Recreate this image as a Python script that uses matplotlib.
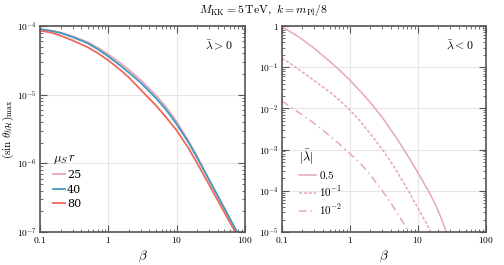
import matplotlib
matplotlib.use("Agg")
import matplotlib.pyplot as plt
from matplotlib.ticker import FixedLocator, LogLocator, NullFormatter

plt.rcParams["mathtext.fontset"] = "cm"
plt.rcParams["font.family"] = ["DejaVu Serif"]

# ── Data ─────────────────────────────────────────────────────
# left panel: lambda > 0, one curve per mu_S r
beta_pos = [0.1, 0.15, 0.2, 0.3, 0.5, 0.7, 1, 1.5, 2, 3, 5, 7, 10, 15, 20, 30, 40, 50, 60, 70, 80, 90]
mu_labels = ["25", "40", "80"]
theta_25 = [9.1e-5, 8.51e-5, 8.04e-5, 7.08e-5, 5.82e-5, 4.84e-5, 3.85e-5, 2.88e-5, 2.30e-5, 1.62e-5,
            9.73e-6, 6.61e-6, 4.04e-6, 2.10e-6, 1.25e-6, 5.79e-7, 3.37e-7, 2.2e-7, 1.57e-7, 1.18e-7,
            9.2e-8, 7.4e-8]
theta_40 = [8.99e-5, 8.41e-5, 7.91e-5, 6.90e-5, 5.60e-5, 4.60e-5, 3.60e-5, 2.65e-5, 2.10e-5, 1.48e-5,
            8.87e-6, 6.03e-6, 3.72e-6, 1.99e-6, 1.2e-6, 5.66e-7, 3.33e-7, 2.2e-7, 1.57e-7, 1.18e-7,
            9.2e-8, 7.4e-8]
theta_80 = [8.59e-5, 7.94e-5, 7.24e-5, 6.17e-5, 4.90e-5, 4.03e-5, 3.16e-5, 2.29e-5, 1.78e-5, 1.17e-5,
            6.92e-6, 4.68e-6, 3.02e-6, 1.64e-6, 1.0e-6, 4.84e-7, 2.88e-7, 1.93e-7, 1.38e-7, 1.05e-7,
            8.1e-8, 6.6e-8]

# right panel: lambda < 0, one curve per |lambda|
lam_labels = [r"$0.5$", r"$10^{-1}$", r"$10^{-2}$"]
beta_a = [0.1, 0.15, 0.2, 0.3, 0.5, 0.7, 1, 1.5, 2, 3, 5, 7, 10, 15, 18, 21, 24, 27]
theta_a = [0.955, 0.644, 0.47, 0.283, 0.14, 0.0851, 0.0481, 0.0237, 0.0137, 5.97e-3,
           1.75e-3, 7.31e-4, 2.74e-4, 8.47e-5, 4.65e-5, 2.59e-5, 1.46e-5, 8.6e-6]
beta_b = [0.1, 0.15, 0.2, 0.3, 0.5, 0.7, 1, 1.4, 2, 3, 4, 5, 7.2, 10, 13, 16, 18]
theta_b = [0.166, 0.107, 0.0759, 0.0468, 0.0251, 0.0158, 9.1e-3, 5.0e-3, 2.4e-3, 1.0e-3,
           5.0e-4, 2.8e-4, 1.0e-4, 3.8e-5, 1.74e-5, 8.9e-6, 6.0e-6]
beta_c = [0.1, 0.15, 0.2, 0.3, 0.5, 0.7, 1, 1.4, 2, 2.92, 4, 5, 6.5, 7.6, 9]
theta_c = [0.0151, 9.5e-3, 6.9e-3, 4.27e-3, 2.19e-3, 1.35e-3, 7.9e-4, 4.8e-4, 2.4e-4, 1.05e-4,
           5.0e-5, 2.8e-5, 1.41e-5, 9.3e-6, 5.6e-6]

x_ticks = [0.1, 1, 10, 100]
x_ticklabels = [r"$0.1$", r"$1$", r"$10$", r"$100$"]
yl_ticks = [1e-7, 1e-6, 1e-5, 1e-4]
yl_ticklabels = [r"$10^{-7}$", r"$10^{-6}$", r"$10^{-5}$", r"$10^{-4}$"]
yr_ticks = [1e-5, 1e-4, 1e-3, 1e-2, 1e-1, 1]
yr_ticklabels = [r"$10^{-5}$", r"$10^{-4}$", r"$10^{-3}$", r"$10^{-2}$", r"$10^{-1}$", r"$1$"]

PINK = "#eca3b6"
BLUE = "#3c9cc0"
RED = "#f06858"
LPINK = "#e8a6b8"

fig = plt.figure(figsize=(5.04, 2.65), dpi=100)
axl = fig.add_axes([0.0794, 0.1245, 0.4067, 0.7774])
axr = fig.add_axes([0.5595, 0.1245, 0.4048, 0.7774])


def style(ax, yticks, ylabels):
    ax.set_xscale("log")
    ax.set_yscale("log")
    ax.set_xlim(0.1, 100)
    ax.set_ylim(yticks[0], yticks[-1])
    ax.xaxis.set_major_locator(FixedLocator(x_ticks))
    ax.set_xticklabels(x_ticklabels)
    ax.yaxis.set_major_locator(FixedLocator(yticks))
    ax.set_yticklabels(ylabels)
    ax.xaxis.set_minor_locator(LogLocator(base=10, subs=range(2, 10), numticks=20))
    ax.yaxis.set_minor_locator(LogLocator(base=10, subs=range(2, 10), numticks=20))
    ax.xaxis.set_minor_formatter(NullFormatter())
    ax.yaxis.set_minor_formatter(NullFormatter())
    ax.tick_params(which="both", direction="in", top=True, right=True,
                   colors="#555555", labelcolor="black", labelsize=6.8, pad=2)
    ax.tick_params(which="major", length=5, width=0.8)
    ax.tick_params(which="minor", length=2.5, width=0.6)
    for s in ax.spines.values():
        s.set_color("#555555")
        s.set_linewidth(1.2)
    ax.grid(True, which="major", color="#e6e6e6", linewidth=0.8)
    ax.set_axisbelow(True)
    ax.set_xlabel(r"$\beta$", fontsize=9.5, labelpad=3)


# ── Left panel ───────────────────────────────────────────────
style(axl, yl_ticks, yl_ticklabels)
axl.plot(beta_pos, theta_25, color=PINK, lw=1.3, label=mu_labels[0])
axl.plot(beta_pos, theta_40, color=BLUE, lw=1.3, label=mu_labels[1])
axl.plot(beta_pos, theta_80, color=RED, lw=1.3, label=mu_labels[2])
axl.set_ylabel(r"$(\sin\,\theta_{h\mathcal{H}})_{\max}$", fontsize=8)
axl.yaxis.set_label_coords(-0.115, 0.5)
axl.text(0.94, 0.9, r"$\bar{\lambda} > 0$", transform=axl.transAxes,
         ha="right", va="center", fontsize=8.5)
leg = axl.legend(title=r"$\mu_S\, r$", loc="lower left", bbox_to_anchor=(0.04, 0.09),
                 frameon=False, fontsize=8, title_fontsize=9, handlelength=1.1,
                 handletextpad=0.2, labelspacing=0.4, borderaxespad=0)
leg._legend_box.align = "left"

# ── Right panel ──────────────────────────────────────────────
style(axr, yr_ticks, yr_ticklabels)
axr.plot(beta_a, theta_a, color=LPINK, lw=1.1, ls="-", label=lam_labels[0])
axr.plot(beta_b, theta_b, color=LPINK, lw=1.1, ls=(0, (2, 1.2)), label=lam_labels[1])
axr.plot(beta_c, theta_c, color=LPINK, lw=1.1, ls=(0, (5, 2.5, 1, 2.5)), label=lam_labels[2])
axr.text(0.94, 0.9, r"$\bar{\lambda} < 0$", transform=axr.transAxes,
         ha="right", va="center", fontsize=8.5)
leg = axr.legend(title=r"$|\bar{\lambda}|$", loc="lower left", bbox_to_anchor=(0.06, 0.05),
                 frameon=False, fontsize=8, title_fontsize=9, handlelength=1.6,
                 handletextpad=0.2, labelspacing=0.3, borderaxespad=0)
leg._legend_box.align = "left"

fig.text(0.523, 0.962, r"$M_{\rm KK} = 5\,{\rm TeV},\ k = m_{\rm Pl}/8$",
         ha="center", va="center", fontsize=8.5)

fig.savefig("out.png", dpi=100)
